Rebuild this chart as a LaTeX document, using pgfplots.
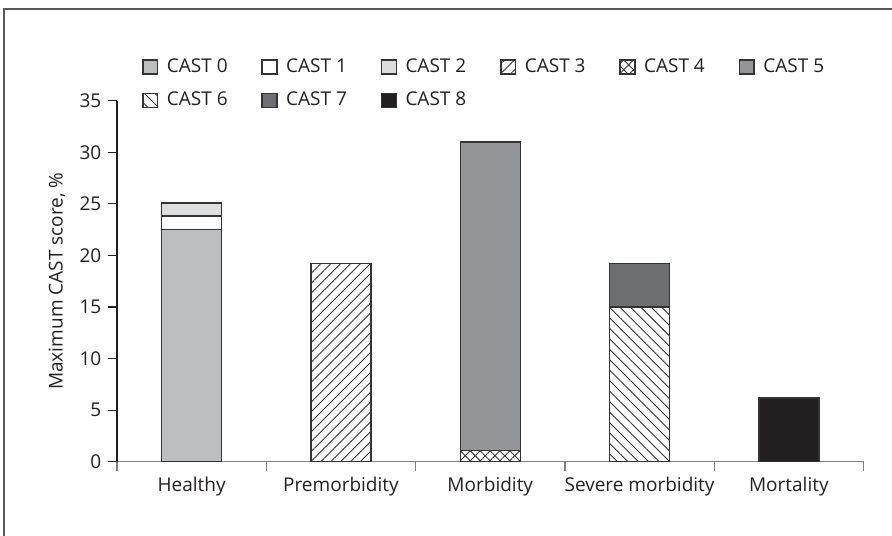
\documentclass[border=0pt]{standalone}
\usepackage{fontspec}
\setmainfont{Open Sans}
\usepackage{pgfplots}
\pgfplotsset{compat=1.18}
\usetikzlibrary{patterns.meta}
\definecolor{c0}{HTML}{BCBEC0}
\definecolor{c2}{HTML}{DCDDDE}
\definecolor{c5}{HTML}{939598}
\definecolor{c7}{HTML}{6D6E71}
\definecolor{c8}{HTML}{231F20}
\definecolor{edge}{HTML}{333333}
\definecolor{txt}{HTML}{231F20}
\definecolor{axgray}{HTML}{808080}
\pgfplotsset{sqlegend/.style={legend image code/.code={\draw[##1] (0pt,-3.5pt) rectangle (7.4pt,3.5pt);}}}
\newcommand{\lentry}[1]{\makebox[43pt][l]{#1}}
\begin{document}
\fontsize{9.5pt}{11pt}\selectfont
\begin{tikzpicture}
\useasboundingbox (-58.5pt,-36.65pt) rectangle (387.5pt,230.85pt);
\draw[line width=1pt, color=black!65] (-56.5pt,-40pt) -- (-56.5pt,226.35pt) -- (392pt,226.35pt);
\begin{axis}[
  at={(0pt,0pt)}, anchor=south west,
  scale only axis, width=373.25pt, height=180.5pt,
  ybar stacked, bar width=30pt,
  xmin=-0.5, xmax=4.5, ymin=0, ymax=35,
  axis x line*=bottom, axis y line*=left,
  axis line style={-},
  x axis line style={draw=axgray, line width=0.6pt},
  y axis line style={draw=txt, line width=0.6pt},
  xtick={0,1,2,3,4},
  xticklabels={Healthy,Premorbidity,Morbidity,Severe morbidity,Mortality},
  minor xtick={-0.5,0.5,1.5,2.5,3.5,4.5},
  xtick style={draw=none},
  minor x tick style={draw=axgray, line width=0.6pt},
  ytick={0,5,...,35},
  y tick style={draw=txt, line width=0.6pt},
  tick align=outside, major tick length=4.5pt, minor tick length=4.5pt,
  /pgf/number format/assume math mode=true,
  tick label style={font=\fontsize{9.5pt}{11pt}\selectfont, text=txt},
  ylabel={Maximum CAST score, \%},
  ylabel style={at={(axis description cs:-0.0804,0.5)}, anchor=center, font=\fontsize{9.5pt}{11pt}\selectfont, text=txt},
  every axis plot post/.append style={sqlegend},
  legend columns=6,
  legend cell align=left,
  legend style={at={(axis description cs:0,1)}, anchor=north west, xshift=12.35pt, yshift=21.3pt,
    draw=none, fill=none, inner sep=0pt, row sep=8.05pt, column sep=0pt,
    font=\fontsize{9.5pt}{11pt}\selectfont, text=txt,
    nodes={inner xsep=4.25pt, inner ysep=0pt, text height=6.8pt, text depth=1.8pt}},
]
\addplot[fill=c0, draw=edge, line width=0.75pt] coordinates {(0,22.5) (1,0) (2,0) (3,0) (4,0)};
\addlegendentry{\lentry{CAST 0}}
\addplot[fill=white, draw=edge, line width=0.75pt] coordinates {(0,1.3) (1,0) (2,0) (3,0) (4,0)};
\addlegendentry{\lentry{CAST 1}}
\addplot[fill=c2, draw=edge, line width=0.75pt] coordinates {(0,1.3) (1,0) (2,0) (3,0) (4,0)};
\addlegendentry{\lentry{CAST 2}}
\addplot[fill=white, draw=edge, line width=0.75pt, postaction={pattern={Lines[angle=45,distance=3.5pt,line width=0.45pt]}, pattern color=edge}] coordinates {(0,0) (1,19.2) (2,0) (3,0) (4,0)};
\addlegendentry{\lentry{CAST 3}}
\addplot[fill=white, draw=edge, line width=0.75pt, postaction={pattern={Hatch[angle=45,distance=3.5pt,line width=0.45pt]}, pattern color=edge}] coordinates {(0,0) (1,0) (2,1.1) (3,0) (4,0)};
\addlegendentry{\lentry{CAST 4}}
\addplot[fill=c5, draw=edge, line width=0.75pt] coordinates {(0,0) (1,0) (2,29.9) (3,0) (4,0)};
\addlegendentry{\lentry{CAST 5}}
\addplot[fill=white, draw=edge, line width=0.75pt, postaction={pattern={Lines[angle=-45,distance=3.7pt,line width=0.45pt]}, pattern color=edge}] coordinates {(0,0) (1,0) (2,0) (3,15.0) (4,0)};
\addlegendentry{\lentry{CAST 6}}
\addplot[fill=c7, draw=edge, line width=0.75pt] coordinates {(0,0) (1,0) (2,0) (3,4.2) (4,0)};
\addlegendentry{\lentry{CAST 7}}
\addplot[fill=c8, draw=edge, line width=0.75pt] coordinates {(0,0) (1,0) (2,0) (3,0) (4,6.2)};
\addlegendentry{\lentry{CAST 8}}
\end{axis}
\end{tikzpicture}
\end{document}
